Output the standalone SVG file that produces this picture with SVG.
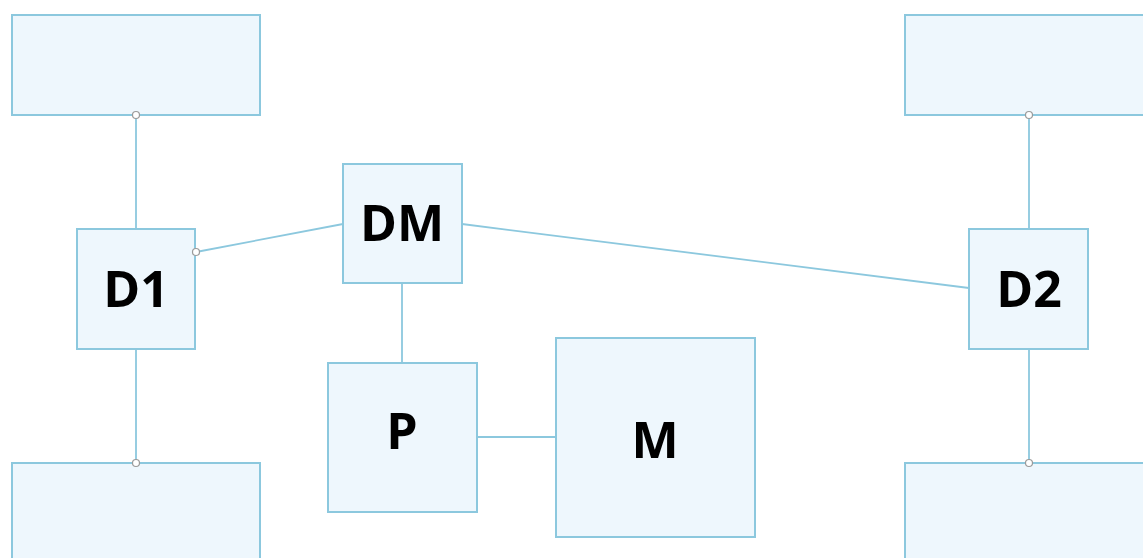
<svg xmlns="http://www.w3.org/2000/svg" width="1143" height="558" viewBox="0 0 1143 558">
<style>
.box{fill:#eef7fd;stroke:#8cc8de;stroke-width:2}
.lbl{font-family:"Open Sans","Noto Sans",sans-serif;font-weight:700;font-size:50px;fill:#000;text-anchor:middle}
.conn{stroke:#8cc8de;stroke-width:1.8;fill:none}
.dot{fill:#fff;stroke:#9a9a9a;stroke-width:1.2}
</style>
<rect width="1143" height="558" fill="#fff"/>
<g id="connectors">
<line class="conn" x1="136" y1="115" x2="136" y2="229"/>
<line class="conn" x1="136" y1="349" x2="136" y2="463"/>
<line class="conn" x1="196" y1="252" x2="343" y2="224"/>
<line class="conn" x1="462" y1="224" x2="969" y2="288"/>
<line class="conn" x1="402" y1="283" x2="402" y2="363"/>
<line class="conn" x1="477" y1="437" x2="556" y2="437"/>
<line class="conn" x1="1029" y1="115" x2="1029" y2="229"/>
<line class="conn" x1="1029" y1="349" x2="1029" y2="463"/>
</g>
<g id="top-left"><rect class="box" x="12" y="15" width="248" height="100"/></g>
<g id="bottom-left"><rect class="box" x="12" y="463" width="248" height="110"/></g>
<g id="top-right"><rect class="box" x="905" y="15" width="250" height="100"/></g>
<g id="bottom-right"><rect class="box" x="905" y="463" width="250" height="110"/></g>
<g id="D1"><rect class="box" x="77" y="229" width="118" height="120"/><text class="lbl" x="136" y="307">D1</text></g>
<g id="DM"><rect class="box" x="343" y="164" width="119" height="119"/><text class="lbl" x="402" y="241">DM</text></g>
<g id="D2"><rect class="box" x="969" y="229" width="119" height="120"/><text class="lbl" x="1029" y="307">D2</text></g>
<g id="P"><rect class="box" x="328" y="363" width="149" height="149"/><text class="lbl" x="402" y="449">P</text></g>
<g id="M"><rect class="box" x="556" y="338" width="199" height="199"/><text class="lbl" x="655" y="458">M</text></g>
<g id="ports">
<circle class="dot" cx="136" cy="115" r="3.5"/>
<circle class="dot" cx="136" cy="463" r="3.5"/>
<circle class="dot" cx="196" cy="252" r="3.5"/>
<circle class="dot" cx="1029" cy="115" r="3.5"/>
<circle class="dot" cx="1029" cy="463" r="3.5"/>
</g>
</svg>
